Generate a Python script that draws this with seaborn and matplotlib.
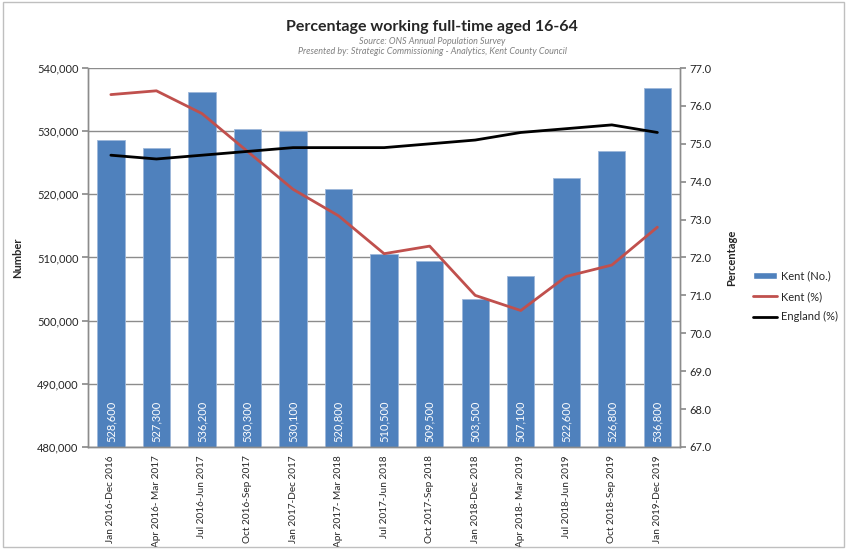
import matplotlib
matplotlib.use("Agg")
import matplotlib.pyplot as plt
import numpy as np
import pandas as pd
import seaborn as sns
from matplotlib.lines import Line2D
from matplotlib.patches import Patch

periods = [
    "Jan 2016-Dec 2016", "Apr 2016- Mar 2017", "Jul 2016-Jun 2017", "Oct 2016-Sep 2017",
    "Jan 2017-Dec 2017", "Apr 2017- Mar 2018", "Jul 2017-Jun 2018", "Oct 2017-Sep 2018",
    "Jan 2018-Dec 2018", "Apr 2018- Mar 2019", "Jul 2018-Jun 2019", "Oct 2018-Sep 2019",
    "Jan 2019-Dec 2019",
]
kent_no = [528600, 527300, 536200, 530300, 530100, 520800, 510500, 509500,
           503500, 507100, 522600, 526800, 536800]
kent_pct = [76.3, 76.4, 75.8, 74.8, 73.8, 73.1, 72.1, 72.3, 71.0, 70.6, 71.5, 71.8, 72.8]
england_pct = [74.7, 74.6, 74.7, 74.8, 74.9, 74.9, 74.9, 75.0, 75.1, 75.3, 75.4, 75.5, 75.3]

df = pd.DataFrame({"period": periods, "kent_no": kent_no,
                   "kent_pct": kent_pct, "england_pct": england_pct})
df["pos"] = np.arange(len(df))

sns.set_theme(style="white")
plt.rcParams["font.family"] = ["Lato", "DejaVu Sans"]

bar_col = "#4F81BD"
red = "#C0504D"
grid_col = "#8C8C8C"

fig = plt.figure(figsize=(8.47, 5.49), dpi=100)
ax = fig.add_axes([0.104, 0.186, 0.699, 0.690])

ax.set_axisbelow(True)
ax.yaxis.grid(True, color=grid_col, linewidth=1)
sns.barplot(data=df, x="period", y="kent_no", color=bar_col, width=0.6,
            saturation=1, ax=ax, edgecolor="#9DB7DA", linewidth=0.6)
ax.set_ylim(480000, 540000)
ax.set_xlim(-0.5, len(df) - 0.5)
ax.set_yticks(np.arange(480000, 540001, 10000))
ax.set_yticklabels([f"{v:,.0f}" for v in np.arange(480000, 540001, 10000)], fontsize=8)
ax.set_xticks(df["pos"])
ax.set_xticklabels(periods, rotation=90, fontsize=7.2)
ax.set_xticks(np.arange(-0.5, len(df), 1), minor=True)
ax.tick_params(axis="x", which="major", length=0, pad=6)
ax.tick_params(axis="x", which="minor", length=5, color=grid_col, width=1, direction="out")
ax.tick_params(axis="y", length=4, color=grid_col, direction="out", pad=3)
ax.set_xlabel("")
ax.set_ylabel("Number", fontsize=8, fontweight="bold", labelpad=10)

for p, v in zip(df["pos"], kent_no):
    ax.text(p, 480700, f"{v:,}", rotation=90, ha="center", va="bottom",
            color="white", fontsize=8)

ax2 = ax.twinx()
sns.lineplot(data=df, x="pos", y="kent_pct", color=red, linewidth=2, ax=ax2)
sns.lineplot(data=df, x="pos", y="england_pct", color="black", linewidth=2, ax=ax2)
ax2.set_ylim(67, 77)
ax2.set_yticks(np.arange(67, 77.01, 1))
ax2.set_yticklabels([f"{v:.1f}" for v in np.arange(67, 77.01, 1)], fontsize=8)
ax2.tick_params(axis="y", length=4, color=grid_col, direction="out", pad=3)
ax2.set_ylabel("Percentage", fontsize=8, fontweight="bold", labelpad=10)
ax2.set_xlabel("")

for a in (ax, ax2):
    for s in a.spines.values():
        s.set_color(grid_col)
        s.set_linewidth(1)
ax.spines["top"].set_visible(False)
ax2.spines["top"].set_visible(False)

fig.text(0.51, 0.951, "Percentage working full-time aged 16-64", ha="center",
         va="center", fontsize=11.5, fontweight="bold")
fig.text(0.51, 0.925, "Source: ONS Annual Population Survey", ha="center",
         va="center", fontsize=6.5, style="italic", color="#808080")
fig.text(0.51, 0.906, "Presented by: Strategic Commissioning - Analytics, Kent County Council",
         ha="center", va="center", fontsize=6.5, style="italic", color="#808080")

handles = [Patch(facecolor=bar_col, label="Kent (No.)"),
           Line2D([], [], color=red, linewidth=2, label="Kent (%)"),
           Line2D([], [], color="black", linewidth=2, label="England (%)")]
fig.legend(handles=handles, loc="center left", bbox_to_anchor=(0.877, 0.46),
           frameon=False, fontsize=8, handlelength=2.2, labelspacing=0.85,
           handletextpad=0.3)

border = plt.Rectangle((0.003, 0.003), 0.994, 0.994, transform=fig.transFigure,
                       fill=False, edgecolor="#BFBFBF", linewidth=1)
fig.patches.append(border)

fig.savefig("out.png", dpi=100)
